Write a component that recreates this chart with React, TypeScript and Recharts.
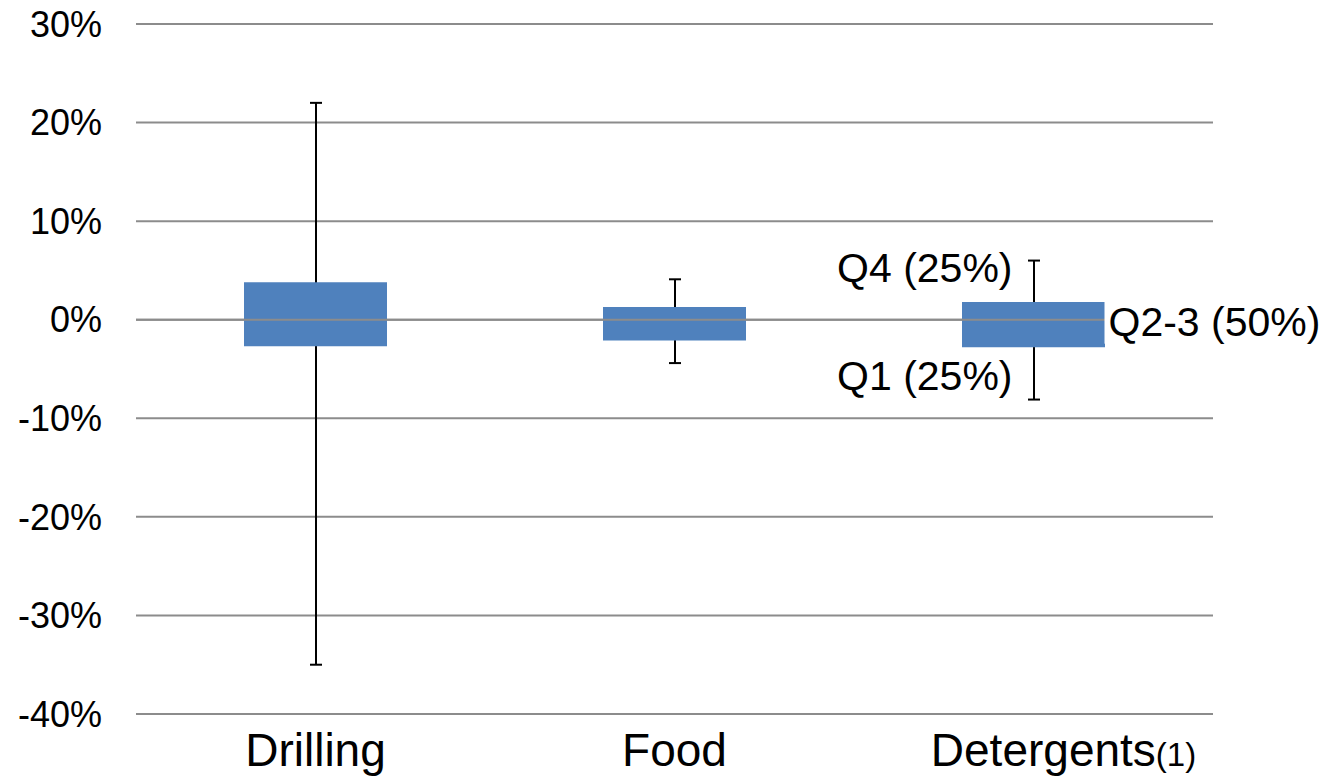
import {
  ComposedChart,
  Bar,
  XAxis,
  YAxis,
  CartesianGrid,
  ReferenceLine,
  ReferenceDot,
} from "recharts";

// quartile spread per sector, in percent
const categories = ["Drilling", "Food", "Detergents"];
const footnotes = ["", "", "(1)"];
const lowValues = [-35.0, -4.4, -8.1];
const q1Values = [-2.7, -2.1, -2.8];
const q3Values = [3.8, 1.3, 1.8];
const highValues = [22.0, 4.1, 6.0];
const yTicks = [-40, -30, -20, -10, 0, 10, 20, 30];

const FONT = "'Liberation Sans', Arial, sans-serif";
const GRID = "#8c8c8c";
const BOX = "#4F81BD";

const data = categories.map((category, i) => ({
  category,
  box: [q1Values[i], q3Values[i]],
  whisker: [lowValues[i], highValues[i]],
}));

function Whisker(props: any) {
  const { x, y, width, height } = props;
  const cx = x + width / 2;
  const top = Math.min(y, y + height);
  const bottom = Math.max(y, y + height);
  return (
    <g stroke="#000" strokeWidth={2}>
      <line x1={cx} x2={cx} y1={top} y2={bottom} />
      <line x1={cx - 6} x2={cx + 6} y1={top} y2={top} />
      <line x1={cx - 6} x2={cx + 6} y1={bottom} y2={bottom} />
    </g>
  );
}

function CategoryTick(props: any) {
  const { x, y, payload } = props;
  const note = footnotes[categories.indexOf(payload.value)];
  return (
    <text
      x={x}
      y={y}
      dy={52}
      dx={note ? 30 : 0}
      textAnchor="middle"
      fontSize={46}
      fontFamily={FONT}
      fill="#000"
    >
      {payload.value}
      {note && <tspan fontSize={33}>{note}</tspan>}
    </text>
  );
}

// quartile annotations next to the last box
function QuartileLabel({ text, dx, anchor, mask }: { text: string; dx: number; anchor: "start" | "end"; mask?: boolean }) {
  return (props: any) => {
    const vb = props.viewBox;
    const cx = vb.x + vb.width / 2;
    const cy = vb.y + vb.height / 2;
    return (
      <g>
        {mask && <rect x={cx + dx - 4} y={cy - 22} width={400} height={44} fill="#fff" />}
        <text
          x={cx + dx}
          y={cy}
          dy="0.355em"
          textAnchor={anchor}
          fontSize={41}
          fontFamily={FONT}
          fill="#000"
        >
          {text}
        </text>
      </g>
    );
  };
}

export default function App() {
  return (
    <div style={{ position: "absolute", left: 0, top: 0 }}>
      <ComposedChart
        width={1327}
        height={777}
        data={data}
        margin={{ top: 24, right: 114, bottom: 0, left: 0 }}
      >
        <CartesianGrid horizontal vertical={false} stroke={GRID} strokeWidth={2} strokeOpacity={1} />
        <XAxis
          xAxisId="box"
          dataKey="category"
          axisLine={false}
          tickLine={false}
          tickSize={0}
          tickMargin={0}
          height={63}
          interval={0}
          tick={<CategoryTick />}
        />
        <XAxis xAxisId="whisker" dataKey="category" hide />
        <YAxis
          domain={[-40, 30]}
          ticks={yTicks}
          width={136}
          axisLine={false}
          tickLine={false}
          tickSize={0}
          tickMargin={34}
          interval={0}
          tickFormatter={(v: number) => `${v}%`}
          tick={{ fontSize: 36, fontFamily: FONT, fill: "#000" }}
        />
        <Bar xAxisId="whisker" dataKey="whisker" barSize={12} shape={<Whisker />} isAnimationActive={false} />
        <Bar xAxisId="box" dataKey="box" barSize={143} fill={BOX} isAnimationActive={false} />
        <ReferenceLine xAxisId="box" y={0} stroke={GRID} strokeWidth={2} />
        <ReferenceDot
          xAxisId="box"
          x="Detergents"
          y={5.3}
          r={0}
          fill="none"
          stroke="none"
          label={{ content: QuartileLabel({ text: "Q4 (25%)", dx: -21, anchor: "end" }) }}
        />
        <ReferenceDot
          xAxisId="box"
          x="Detergents"
          y={-0.2}
          r={0}
          fill="none"
          stroke="none"
          label={{ content: QuartileLabel({ text: "Q2-3 (50%)", dx: 75, anchor: "start", mask: true }) }}
        />
        <ReferenceDot
          xAxisId="box"
          x="Detergents"
          y={-5.7}
          r={0}
          fill="none"
          stroke="none"
          label={{ content: QuartileLabel({ text: "Q1 (25%)", dx: -21, anchor: "end" }) }}
        />
      </ComposedChart>
    </div>
  );
}
